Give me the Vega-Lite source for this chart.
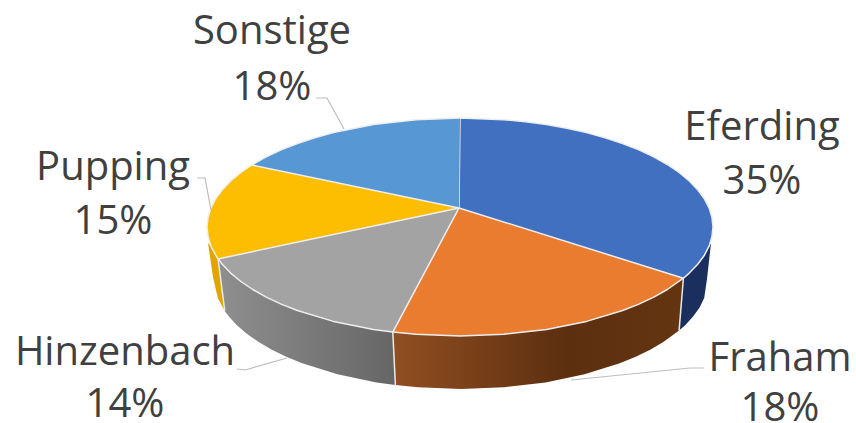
{"$schema":"https://vega.github.io/schema/vega-lite/v6.json","width":856,"height":423,"padding":0,"autosize":{"type":"none"},"background":"white","view":{"stroke":null},
"datasets":{
"top":[
{"s":"Eferding","i":-1,"x":-1,"y":19},{"s":"Eferding","i":0,"x":0,"y":109},{"s":"Eferding","i":10,"x":43.9,"y":107.3},{"s":"Eferding","i":15,"x":65.5,"y":105.3},{"s":"Eferding","i":20,"x":86.5,"y":102.4},{"s":"Eferding","i":25,"x":106.9,"y":98.8},{"s":"Eferding","i":30,"x":126.5,"y":94.4},{"s":"Eferding","i":35,"x":145.1,"y":89.3},{"s":"Eferding","i":40,"x":162.6,"y":83.5},{"s":"Eferding","i":45,"x":178.9,"y":77.1},{"s":"Eferding","i":50,"x":193.8,"y":70.1},{"s":"Eferding","i":55,"x":207.3,"y":62.5},{"s":"Eferding","i":60,"x":219.1,"y":54.5},{"s":"Eferding","i":65,"x":229.3,"y":46.1},{"s":"Eferding","i":70,"x":237.7,"y":37.3},{"s":"Eferding","i":75,"x":244.4,"y":28.2},{"s":"Eferding","i":80,"x":249.2,"y":18.9},{"s":"Eferding","i":85,"x":252,"y":9.5},{"s":"Eferding","i":90,"x":253,"y":0},{"s":"Eferding","i":95,"x":252,"y":-9.5},{"s":"Eferding","i":100,"x":249.2,"y":-18.9},{"s":"Eferding","i":105,"x":244.4,"y":-28.2},{"s":"Eferding","i":110,"x":237.7,"y":-37.3},{"s":"Eferding","i":115,"x":229.3,"y":-46.1},{"s":"Eferding","i":118,"x":223.4,"y":-51.2},
{"s":"Fraham","i":-1,"x":-1,"y":19},{"s":"Fraham","i":118,"x":223.4,"y":-51.2},{"s":"Fraham","i":125,"x":207.3,"y":-62.5},{"s":"Fraham","i":130,"x":193.8,"y":-70.1},{"s":"Fraham","i":135,"x":178.9,"y":-77.1},{"s":"Fraham","i":140,"x":162.6,"y":-83.5},{"s":"Fraham","i":150,"x":126.5,"y":-94.4},{"s":"Fraham","i":160,"x":86.5,"y":-102.4},{"s":"Fraham","i":170,"x":43.9,"y":-107.3},{"s":"Fraham","i":180,"x":0,"y":-109},{"s":"Fraham","i":190,"x":-43.9,"y":-107.3},{"s":"Fraham","i":195.4,"x":-67.2,"y":-105.1},
{"s":"Hinzenbach","i":-1,"x":-1,"y":19},{"s":"Hinzenbach","i":195.4,"x":-67.2,"y":-105.1},{"s":"Hinzenbach","i":200,"x":-86.5,"y":-102.4},{"s":"Hinzenbach","i":210,"x":-126.5,"y":-94.4},{"s":"Hinzenbach","i":220,"x":-162.6,"y":-83.5},{"s":"Hinzenbach","i":225,"x":-178.9,"y":-77.1},{"s":"Hinzenbach","i":230,"x":-193.8,"y":-70.1},{"s":"Hinzenbach","i":235,"x":-207.3,"y":-62.5},{"s":"Hinzenbach","i":240,"x":-219.1,"y":-54.5},{"s":"Hinzenbach","i":245,"x":-229.3,"y":-46.1},{"s":"Hinzenbach","i":250,"x":-237.7,"y":-37.3},{"s":"Hinzenbach","i":253,"x":-241.9,"y":-31.9},
{"s":"Pupping","i":-1,"x":-1,"y":19},{"s":"Pupping","i":253,"x":-241.9,"y":-31.9},{"s":"Pupping","i":255,"x":-244.4,"y":-28.2},{"s":"Pupping","i":260,"x":-249.2,"y":-18.9},{"s":"Pupping","i":265,"x":-252,"y":-9.5},{"s":"Pupping","i":270,"x":-253,"y":0},{"s":"Pupping","i":275,"x":-252,"y":9.5},{"s":"Pupping","i":280,"x":-249.2,"y":18.9},{"s":"Pupping","i":285,"x":-244.4,"y":28.2},{"s":"Pupping","i":290,"x":-237.7,"y":37.3},{"s":"Pupping","i":295,"x":-229.3,"y":46.1},{"s":"Pupping","i":300,"x":-219.1,"y":54.5},{"s":"Pupping","i":304.6,"x":-208.2,"y":62},
{"s":"Sonstige","i":-1,"x":-1,"y":19},{"s":"Sonstige","i":304.6,"x":-208.2,"y":62},{"s":"Sonstige","i":310,"x":-193.8,"y":70.1},{"s":"Sonstige","i":315,"x":-178.9,"y":77.1},{"s":"Sonstige","i":320,"x":-162.6,"y":83.5},{"s":"Sonstige","i":325,"x":-145.1,"y":89.3},{"s":"Sonstige","i":330,"x":-126.5,"y":94.4},{"s":"Sonstige","i":340,"x":-86.5,"y":102.4},{"s":"Sonstige","i":350,"x":-43.9,"y":107.3},{"s":"Sonstige","i":360,"x":0,"y":109}
],
"walls":[
{"s":"Eferding","i":97,"x":251,"y":-16},{"s":"Eferding","i":100,"x":249.2,"y":-18.9},{"s":"Eferding","i":105,"x":244.4,"y":-28.2},{"s":"Eferding","i":110,"x":237.7,"y":-37.3},{"s":"Eferding","i":115,"x":229.3,"y":-46.1},{"s":"Eferding","i":118,"x":223.4,"y":-51.2},{"s":"Eferding","i":882,"x":219.1,"y":-103.6},{"s":"Eferding","i":885,"x":224.9,"y":-98.5},{"s":"Eferding","i":890,"x":233.1,"y":-89.6},{"s":"Eferding","i":895,"x":239.6,"y":-80.4},{"s":"Eferding","i":900,"x":244.2,"y":-71.1},{"s":"Eferding","i":905,"x":247,"y":-52},
{"s":"Fraham","i":118,"x":223.4,"y":-51.2},{"s":"Fraham","i":125,"x":207.3,"y":-62.5},{"s":"Fraham","i":130,"x":193.8,"y":-70.1},{"s":"Fraham","i":140,"x":162.6,"y":-83.5},{"s":"Fraham","i":150,"x":126.5,"y":-94.4},{"s":"Fraham","i":160,"x":86.5,"y":-102.4},{"s":"Fraham","i":170,"x":43.9,"y":-107.3},{"s":"Fraham","i":180,"x":0,"y":-109},{"s":"Fraham","i":190,"x":-43.9,"y":-107.3},{"s":"Fraham","i":195.4,"x":-67.2,"y":-105.1},{"s":"Fraham","i":804.6,"x":-64.6,"y":-158},{"s":"Fraham","i":810,"x":-41.9,"y":-160.3},{"s":"Fraham","i":820,"x":1,"y":-162},{"s":"Fraham","i":830,"x":43.9,"y":-160.3},{"s":"Fraham","i":840,"x":85.5,"y":-155.4},{"s":"Fraham","i":850,"x":124.5,"y":-147.3},{"s":"Fraham","i":860,"x":159.8,"y":-136.3},{"s":"Fraham","i":865,"x":175.7,"y":-129.8},{"s":"Fraham","i":870,"x":190.2,"y":-122.7},{"s":"Fraham","i":875,"x":203.3,"y":-115.1},{"s":"Fraham","i":882,"x":219.1,"y":-103.6},
{"s":"Hinzenbach","i":195.4,"x":-67.2,"y":-105.1},{"s":"Hinzenbach","i":200,"x":-86.5,"y":-102.4},{"s":"Hinzenbach","i":210,"x":-126.5,"y":-94.4},{"s":"Hinzenbach","i":220,"x":-162.6,"y":-83.5},{"s":"Hinzenbach","i":230,"x":-193.8,"y":-70.1},{"s":"Hinzenbach","i":240,"x":-219.1,"y":-54.5},{"s":"Hinzenbach","i":250,"x":-237.7,"y":-37.3},{"s":"Hinzenbach","i":253,"x":-241.9,"y":-31.9},{"s":"Hinzenbach","i":747,"x":-235.2,"y":-84.2},{"s":"Hinzenbach","i":750,"x":-231.1,"y":-89.6},{"s":"Hinzenbach","i":755,"x":-222.9,"y":-98.5},{"s":"Hinzenbach","i":760,"x":-212.9,"y":-107},{"s":"Hinzenbach","i":765,"x":-201.3,"y":-115.1},{"s":"Hinzenbach","i":770,"x":-188.2,"y":-122.7},{"s":"Hinzenbach","i":775,"x":-173.7,"y":-129.8},{"s":"Hinzenbach","i":780,"x":-157.8,"y":-136.3},{"s":"Hinzenbach","i":790,"x":-122.5,"y":-147.3},{"s":"Hinzenbach","i":800,"x":-83.5,"y":-155.4},{"s":"Hinzenbach","i":804.6,"x":-64.6,"y":-158},
{"s":"Pupping","i":0,"x":-241.9,"y":-31.9},{"s":"Pupping","i":1,"x":-249.2,"y":-18.9},{"s":"Pupping","i":2,"x":-252,"y":-16},{"s":"Pupping","i":3,"x":-247,"y":-50},{"s":"Pupping","i":4,"x":-242.2,"y":-71.1},{"s":"Pupping","i":5,"x":-235.2,"y":-84.2}
],
"seams":[
{"s":"a","i":0,"x":223.4,"y":-51.2},{"s":"a","i":1,"x":219.1,"y":-103.6},
{"s":"b","i":0,"x":-67.2,"y":-105.1},{"s":"b","i":1,"x":-64.6,"y":-158},
{"s":"c","i":0,"x":-241.9,"y":-31.9},{"s":"c","i":1,"x":-235.2,"y":-84.2}
],
"leaders":[
{"s":"Sonstige","i":0,"x":-144,"y":129},{"s":"Sonstige","i":1,"x":-133,"y":129},{"s":"Sonstige","i":2,"x":-116,"y":98},
{"s":"Pupping","i":0,"x":-263,"y":49},{"s":"Pupping","i":1,"x":-255,"y":49},{"s":"Pupping","i":2,"x":-249,"y":17},
{"s":"Hinzenbach","i":0,"x":-223,"y":-142},{"s":"Hinzenbach","i":1,"x":-215,"y":-143},{"s":"Hinzenbach","i":2,"x":-173,"y":-131},
{"s":"Fraham","i":0,"x":244,"y":-141},{"s":"Fraham","i":1,"x":230,"y":-141},{"s":"Fraham","i":2,"x":111,"y":-153}
],
"labels":[
{"s":"Eferding","share":"35%","x":302,"yName":99.5,"yShare":45.5},
{"s":"Fraham","share":"18%","x":320,"yName":-131.5,"yShare":-182},
{"s":"Hinzenbach","share":"14%","x":-335,"yName":-126,"yShare":-178},
{"s":"Pupping","share":"15%","x":-347,"yName":59,"yShare":5},
{"s":"Sonstige","share":"18%","x":-188,"yName":195,"yShare":139}
]},
"encoding":{
"x":{"field":"x","type":"quantitative","scale":{"domain":[-460,396],"nice":false,"zero":false},"axis":null},
"y":{"field":"y","type":"quantitative","scale":{"domain":[-196,227],"nice":false,"zero":false},"axis":null}
},
"layer":[
{"data":{"name":"walls"},"transform":[{"filter":"datum.s==='Eferding'"}],"mark":{"type":"line","filled":true,"fill":"#1a2f5e","strokeWidth":0},"encoding":{"order":{"field":"i","type":"quantitative"}}},
{"data":{"name":"walls"},"transform":[{"filter":"datum.s==='Fraham'"}],"mark":{"type":"line","filled":true,"strokeWidth":0,"fill":{"gradient":"linear","x1":0,"y1":0,"x2":1,"y2":0,"stops":[{"offset":0,"color":"#914f21"},{"offset":0.6,"color":"#5c2f10"},{"offset":1,"color":"#643510"}]}},"encoding":{"order":{"field":"i","type":"quantitative"}}},
{"data":{"name":"walls"},"transform":[{"filter":"datum.s==='Hinzenbach'"}],"mark":{"type":"line","filled":true,"strokeWidth":0,"fill":{"gradient":"linear","x1":0,"y1":0,"x2":1,"y2":0,"stops":[{"offset":0,"color":"#8f8f8f"},{"offset":1,"color":"#666666"}]}},"encoding":{"order":{"field":"i","type":"quantitative"}}},
{"data":{"name":"walls"},"transform":[{"filter":"datum.s==='Pupping'"}],"mark":{"type":"line","filled":true,"fill":"#dfa600","strokeWidth":0},"encoding":{"order":{"field":"i","type":"quantitative"}}},
{"data":{"name":"seams"},"mark":{"type":"line","stroke":"#e9e9e9","strokeWidth":1.5},"encoding":{"detail":{"field":"s"},"order":{"field":"i","type":"quantitative"}}},
{"data":{"name":"top"},"mark":{"type":"line","filled":true,"stroke":"#eeeeee","strokeWidth":1.5,"strokeJoin":"round"},"encoding":{"color":{"field":"s","type":"nominal","legend":null,"scale":{"domain":["Eferding","Fraham","Hinzenbach","Pupping","Sonstige"],"range":["#4270c1","#ea7c30","#a3a3a3","#fdbe02","#5697d4"]}},"order":{"field":"i","type":"quantitative"}}},
{"data":{"name":"leaders"},"mark":{"type":"line","stroke":"#bdbdbd","strokeWidth":1.2},"encoding":{"detail":{"field":"s"},"order":{"field":"i","type":"quantitative"}}},
{"data":{"name":"labels"},"mark":{"type":"text","font":"Open Sans","fontSize":40,"fill":"#404040","align":"center","baseline":"middle"},"encoding":{"y":{"field":"yName","type":"quantitative"},"text":{"field":"s"}}},
{"data":{"name":"labels"},"mark":{"type":"text","font":"Open Sans","fontSize":40,"fill":"#404040","align":"center","baseline":"middle"},"encoding":{"y":{"field":"yShare","type":"quantitative"},"text":{"field":"share"}}}
]}
